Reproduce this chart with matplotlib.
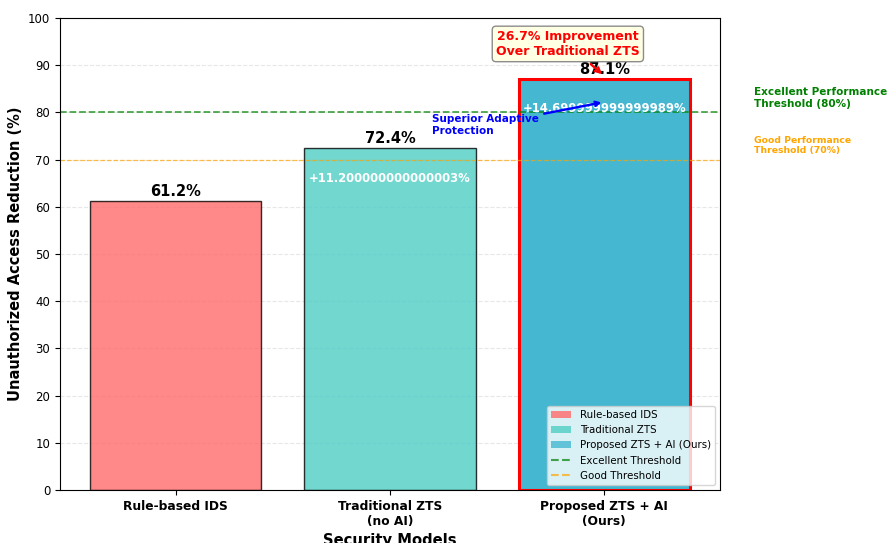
import matplotlib
matplotlib.use("Agg")
import matplotlib.pyplot as plt
from matplotlib.patches import Patch
from matplotlib.lines import Line2D

# Security model comparison data
models = ['Rule-based IDS', 'Traditional ZTS\n(no AI)', 'Proposed ZTS + AI\n(Ours)']
legend_names = ['Rule-based IDS', 'Traditional ZTS', 'Proposed ZTS + AI (Ours)']
reduction = [61.2, 72.4, 87.1]
colors = ['#FF6B6B', '#4ECDC4', '#45B7D1']
excellent_threshold = 80
good_threshold = 70

fig = plt.figure(figsize=(8.88, 5.43), dpi=100)
ax = fig.add_axes([0.0676, 0.0976, 0.7432, 0.8693])

x = list(range(len(models)))
bars = ax.bar(x, reduction, width=0.8, color=colors, alpha=0.8,
              edgecolor='black', linewidth=1.0)

# highlight our model
bars[2].set_edgecolor('red')
bars[2].set_linewidth(2.2)
bars[2].set_alpha(1.0)
bars[2].set_facecolor((0x45 / 255, 0xB7 / 255, 0xD1 / 255, 0.95))

# value labels on top of bars
for bar, val in zip(bars, reduction):
    ax.text(bar.get_x() + bar.get_width() / 2, val + 0.5, f'{val}%',
            ha='center', va='bottom', fontsize=10.5, fontweight='bold')

# improvement over the previous model
for i in range(1, len(reduction)):
    diff = reduction[i] - reduction[i - 1]
    ax.text(x[i], reduction[i] - 5, f'+{diff}%', ha='center', va='top',
            fontsize=8.4, fontweight='bold', color='white')

# threshold lines
ax.axhline(excellent_threshold, color='green', linestyle='--', linewidth=1.3,
           alpha=0.7)
ax.axhline(good_threshold, color='orange', linestyle='--', linewidth=0.9,
           alpha=0.7)
ax.text(2.70, excellent_threshold + 3, 'Excellent Performance\nThreshold (80%)',
        fontsize=7.5, fontweight='bold', color='green', va='center', ha='left')
ax.text(2.70, good_threshold + 3, 'Good Performance\nThreshold (70%)',
        fontsize=6.7, fontweight='bold', color='orange', va='center', ha='left')

# annotations
ax.annotate('26.7% Improvement\nOver Traditional ZTS', xy=(2.0, reduction[2] + 0.6),
            xytext=(1.83, 94.5), ha='center', va='center',
            fontsize=9, fontweight='bold', color='red',
            bbox=dict(boxstyle='round,pad=0.3', facecolor='lightyellow',
                      edgecolor='gray', alpha=0.9),
            arrowprops=dict(arrowstyle='->', color='red', lw=1.7))
ax.annotate('Superior Adaptive\nProtection', xy=(2.0, 82.2),
            xytext=(1.195, 77.3), ha='left', va='center',
            fontsize=7.5, fontweight='bold', color='blue',
            arrowprops=dict(arrowstyle='->', color='blue', lw=1.7))

ax.set_ylim(0, 100)
ax.set_yticks(range(0, 101, 10))
ax.tick_params(axis='y', labelsize=8.5)
ax.set_xticks(x)
ax.set_xticklabels(models, fontsize=8.8, fontweight='bold')
ax.set_ylabel('Unauthorized Access Reduction (%)', fontsize=10.5, fontweight='bold')
ax.set_xlabel('Security Models', fontsize=10.6, fontweight='bold')
ax.grid(axis='y', alpha=0.3, linestyle='--')
ax.set_axisbelow(True)

handles = [Patch(facecolor=c, alpha=0.8, label=n) for c, n in zip(colors, legend_names)]
handles += [Line2D([0], [0], color='green', linestyle='--', alpha=0.7, label='Excellent Threshold'),
            Line2D([0], [0], color='orange', linestyle='--', alpha=0.7, label='Good Threshold')]
ax.legend(handles=handles, loc='lower right', fontsize=7.4)

fig.savefig('out.png', dpi=100)
